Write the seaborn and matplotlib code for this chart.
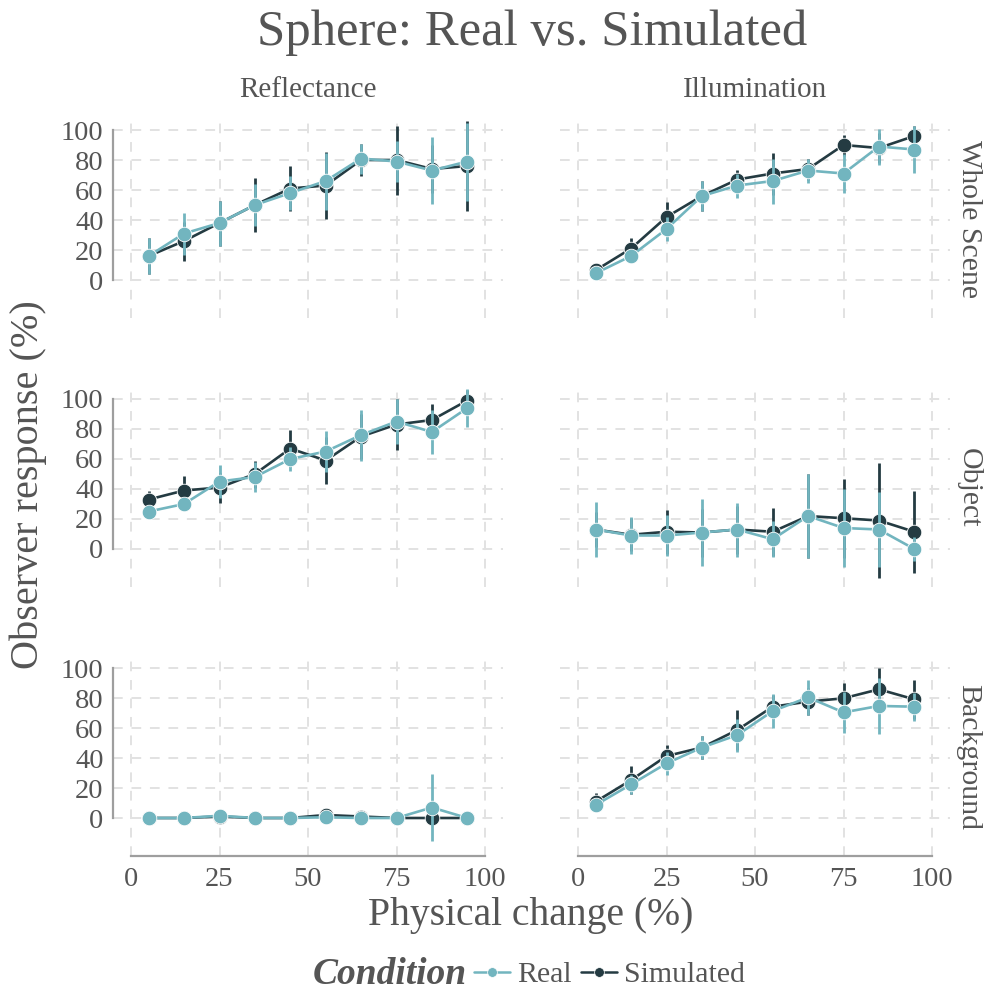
import numpy as np
import pandas as pd
import matplotlib
matplotlib.use("Agg")
import matplotlib.pyplot as plt
import seaborn as sns
from matplotlib.lines import Line2D

# ---------------- data ----------------
x_levels = [5, 15, 25, 35, 45, 55, 65, 75, 85, 95]
dims = ["Reflectance", "Illumination"]
regions = ["Whole Scene", "Object", "Background"]
conditions = ["Real", "Simulated"]

# Reflectance / Whole Scene
refl_whole_real = [16, 31, 38, 50, 58, 66, 81, 79, 73, 79]
refl_whole_real_err = [12, 14, 15, 14, 11.5, 19, 10, 13.5, 22.5, 26]
refl_whole_sim = [16, 26, 38, 50, 61, 63, 80, 80, 74, 76]
refl_whole_sim_err = [12, 13, 15, 18, 15, 22.5, 10.5, 23, 16, 30]
# Illumination / Whole Scene
illu_whole_real = [4.5, 16, 34, 56, 63, 66, 73, 71, 89, 87]
illu_whole_real_err = [3, 3, 8, 10, 8, 15, 8, 13, 12, 15.5]
illu_whole_sim = [6.5, 21, 42, 56, 67, 71, 74, 90, 88, 96]
illu_whole_sim_err = [3, 7, 10, 10, 6.5, 14, 7, 7, 10, 7]
# Reflectance / Object
refl_obj_real = [25, 30, 45, 48, 60, 65, 76, 85, 78, 94]
refl_obj_real_err = [3, 4, 11, 10, 7.7, 13.4, 17, 15, 14.4, 12.5]
refl_obj_sim = [33, 39, 41, 50, 67, 59, 75, 83, 86, 99]
refl_obj_sim_err = [6, 10, 10, 9, 12.5, 15.5, 15, 16.7, 11, 7]
# Illumination / Object
illu_obj_real = [13, 9, 9, 11, 13, 6.5, 22, 14, 13, 0]
illu_obj_real_err = [18.5, 12.5, 13.5, 22.5, 18, 12, 27.7, 26, 25, 8]
illu_obj_sim = [13, 9.5, 11.5, 11, 13, 11.5, 22, 20.5, 19, 11.5]
illu_obj_sim_err = [11.5, 11, 14.5, 16, 16, 16, 27.7, 26.3, 38.3, 27.5]
# Reflectance / Background
refl_bg_real = [0, 0, 1.5, 0, 0, 0.5, 0, 0, 7, 0]
refl_bg_real_err = [1, 1, 1.5, 1, 1, 1, 1, 1, 22.5, 1]
refl_bg_sim = [0, 0, 1, 0, 0, 2, 1, 0, 0, 0]
refl_bg_sim_err = [0.5, 0.5, 1, 1, 0.5, 1.5, 1, 0.5, 0.5, 0.5]
# Illumination / Background
illu_bg_real = [8.7, 22.4, 36.4, 47, 55.3, 71.3, 80.4, 70.4, 74.7, 74.2]
illu_bg_real_err = [4, 6.4, 7.4, 7.5, 11, 11.5, 11.6, 13.4, 18.7, 9.2]
illu_bg_sim = [10.9, 25.3, 41.3, 47, 58.7, 74.2, 77.6, 79.8, 85.8, 79.1]
illu_bg_sim_err = [5.5, 9.4, 7.4, 7.5, 13.3, 8, 8.9, 10.2, 14.2, 12.9]

series = {
    ("Reflectance", "Whole Scene"): (refl_whole_real, refl_whole_real_err, refl_whole_sim, refl_whole_sim_err),
    ("Illumination", "Whole Scene"): (illu_whole_real, illu_whole_real_err, illu_whole_sim, illu_whole_sim_err),
    ("Reflectance", "Object"): (refl_obj_real, refl_obj_real_err, refl_obj_sim, refl_obj_sim_err),
    ("Illumination", "Object"): (illu_obj_real, illu_obj_real_err, illu_obj_sim, illu_obj_sim_err),
    ("Reflectance", "Background"): (refl_bg_real, refl_bg_real_err, refl_bg_sim, refl_bg_sim_err),
    ("Illumination", "Background"): (illu_bg_real, illu_bg_real_err, illu_bg_sim, illu_bg_sim_err),
}

rows = []
for (d, r), (rv, re, sv, se) in series.items():
    for x, v, e in zip(x_levels, rv, re):
        rows.append(dict(Dim=d, Region=r, Condition="Real", x=x, y=v, err=e))
    for x, v, e in zip(x_levels, sv, se):
        rows.append(dict(Dim=d, Region=r, Condition="Simulated", x=x, y=v, err=e))
df = pd.DataFrame(rows)

x_ticks = [0, 25, 50, 75, 100]
y_ticks = [0, 20, 40, 60, 80, 100]

# ---------------- style ----------------
sns.set_theme(style="white")
plt.rcParams["font.family"] = ["Liberation Serif", "DejaVu Serif"]
TXT = "#555555"
palette = {"Real": "#72B5BF", "Simulated": "#243B42"}
AXC = "#9e9e9e"

W, H = 985, 994
fig = plt.figure(figsize=(W / 100, H / 100), dpi=100)

col_left = [113.3, 560.3]
col_w = 389.4
row_top = [119.5, 388.5, 657.5]
row_h = 198
YLIM = (-25, 107)
XLIM = (-5, 105)

z_order = {"Simulated": 2.0, "Real": 3.0}

for i, reg in enumerate(regions):
    for j, dim in enumerate(dims):
        ax = fig.add_axes([col_left[j] / W, 1 - (row_top[i] + row_h) / H, col_w / W, row_h / H])
        ax.set_xlim(*XLIM)
        ax.set_ylim(*YLIM)
        sub = df[(df.Dim == dim) & (df.Region == reg)]
        for cond in ["Simulated", "Real"]:
            s = sub[sub.Condition == cond]
            z = z_order[cond]
            ax.vlines(s.x, s.y - s.err, s.y + s.err, color=palette[cond], lw=2.0, zorder=z)
            sns.lineplot(data=s, x="x", y="y", color=palette[cond], marker="o",
                         markersize=10.5, markeredgecolor="white", markeredgewidth=0.6,
                         linewidth=1.9, errorbar=None, legend=False, ax=ax, zorder=z + 0.1)
        ax.set_xticks(x_ticks)
        ax.set_yticks(y_ticks)
        ax.grid(True, color="#e2e2e2", linewidth=1.4, linestyle=(0, (5, 4.5)))
        ax.set_axisbelow(True)
        for sp in ax.spines.values():
            sp.set_visible(False)
        ax.set_xlabel("")
        ax.set_ylabel("")
        ax.tick_params(axis="both", length=0, labelsize=20.5, labelcolor=TXT)
        ax.tick_params(axis="y", pad=7)
        ax.tick_params(axis="x", pad=8)
        if j == 0:
            ax.spines["left"].set_visible(True)
            ax.spines["left"].set_bounds(0, 100)
            ax.spines["left"].set_color(AXC)
            ax.spines["left"].set_linewidth(1.6)
            ax.set_yticks([0, 100], minor=True)
            ax.tick_params(axis="y", which="minor", direction="in", length=4, width=1.6, color=AXC)
        else:
            ax.set_yticklabels([])
        if i == 0:
            ax.set_title(dim, fontsize=21, color=TXT, pad=16)
        if i == 2:
            ax.spines["bottom"].set_visible(True)
            ax.spines["bottom"].set_bounds(0, 100)
            ax.spines["bottom"].set_color(AXC)
            ax.spines["bottom"].set_linewidth(1.6)
            ax.set_xticks([0, 100], minor=True)
            ax.tick_params(axis="x", which="minor", direction="in", length=4, width=1.6, color=AXC)
        else:
            ax.set_xticklabels([])
        if j == 1:
            ax.text(1.015, 0.5, reg, transform=ax.transAxes,
                    rotation=270, va="center", ha="left", fontsize=21.5, color=TXT)

fig.text(532 / W, 1 - 33 / H, "Sphere: Real vs. Simulated", ha="center", va="center",
         fontsize=36.5, color=TXT)
fig.text(531 / W, 1 - 915 / H, "Physical change (%)", ha="center", va="center",
         fontsize=28.5, color=TXT)
fig.text(28 / W, 1 - 485 / H, "Observer response (%)", ha="center", va="center",
         rotation=90, fontsize=29, color=TXT)

# legend
fig.text(467 / W, 1 - 975 / H, "Condition", ha="right", va="center", fontsize=27,
         fontweight="bold", fontstyle="italic", color=TXT)
handles = [Line2D([0], [0], color=palette[c], marker="o", markersize=7, lw=1.8,
                  markeredgecolor="white", markeredgewidth=0.5) for c in conditions]
leg = fig.legend(handles, conditions, loc="center left", bbox_to_anchor=(474 / W, 1 - 975 / H),
                 ncol=2, frameon=False, fontsize=21.5, handlelength=1.2, handletextpad=0.25,
                 columnspacing=0.3, borderaxespad=0, borderpad=0)
for t in leg.get_texts():
    t.set_color(TXT)

fig.savefig("out.png", dpi=100)
